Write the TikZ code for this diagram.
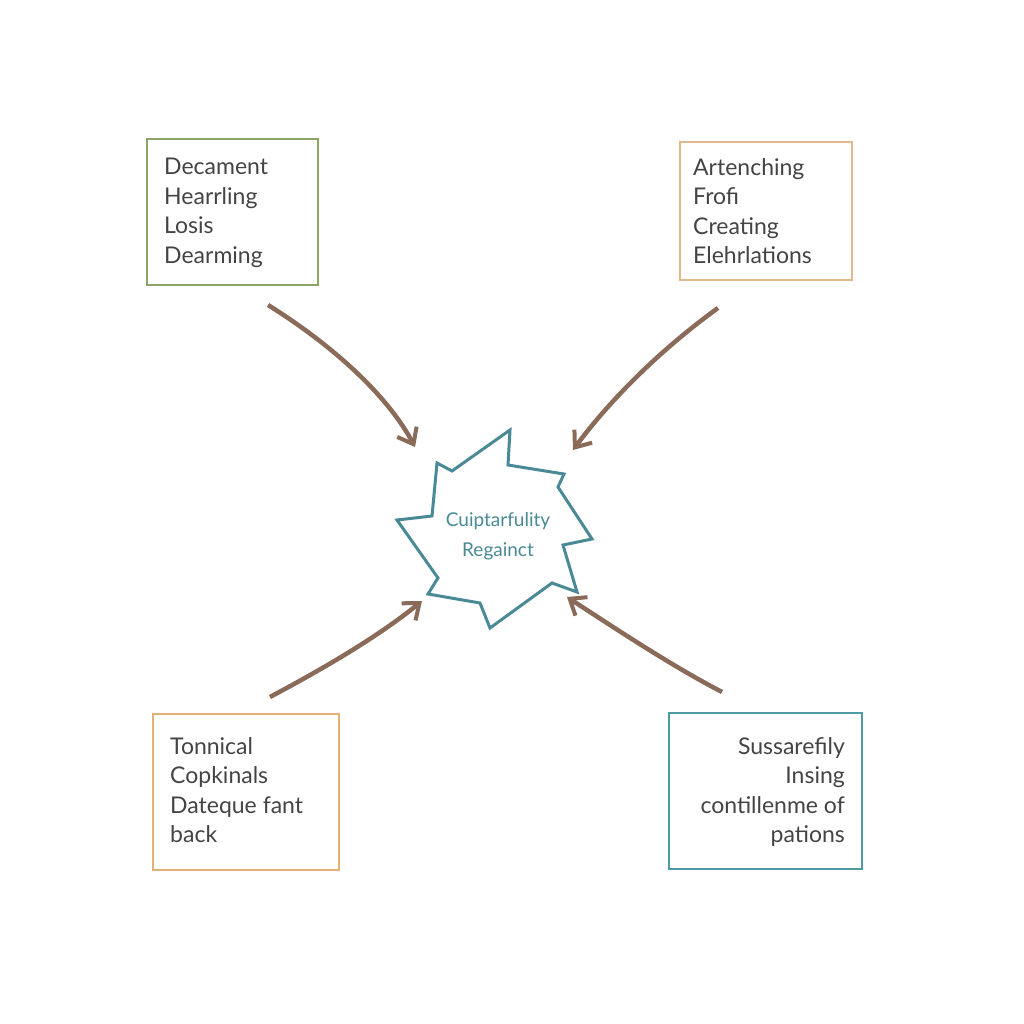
\documentclass[tikz,border=0pt]{standalone}
\usepackage{fontspec}
\setmainfont{Lato}
\usetikzlibrary{arrows.meta}
\definecolor{ink}{HTML}{444444}
\definecolor{gbox}{HTML}{8FA565}
\definecolor{obox}{HTML}{E2B88E}
\definecolor{obox2}{HTML}{E3B275}
\definecolor{tbox}{HTML}{4D9BA2}
\definecolor{brn}{HTML}{8A6A58}
\definecolor{teal}{HTML}{4A8A96}
\tikzset{
  box/.style={draw=#1,line width=2.5pt,inner sep=0pt},
  txt/.style={font=\fontsize{23}{29.5}\selectfont,text=ink,align=left,anchor=north west,inner sep=0pt},
  conn/.style={draw=brn,line width=4.5pt,-{Straight Barb[length=14pt,width=22pt,line width=4pt]}}
}
\begin{document}
\begin{tikzpicture}[x=1pt,y=-1pt]
\useasboundingbox[fill=white] (0,0) rectangle (1024,1024);
\draw[box=gbox] (147,139) rectangle (318,285);
\node[txt] (t1) at (164,158) {Decament\\Hearrling\\Losis\\Dearming};
\draw[box=obox] (680,142) rectangle (852,280);
\node[txt] (t2) at (693,158) {Artenching\\Frofi\\Creating\\Elehrlations};
\draw[box=obox2] (153,714) rectangle (339,870);
\node[txt] (t3) at (170,737) {Tonnical\\Copkinals\\Dateque fant\\back};
\draw[box=tbox] (669,713) rectangle (862,869);
\node[txt,align=right,anchor=north east] (t4) at (845,737) {Sussarefily\\Insing\\contillenme of\\pations};
\draw[teal,line width=3pt,line join=miter] (437,463)--(452,471)--(510,430)--(508,465)--(564,474)--(558,487)--(592,539)--(563,545)--(577,592)--(552,583)--(490,628)--(480,603)--(428,594)--(438,578)--(397,520)--(432,516)--cycle;
\node[font=\fontsize{19}{30}\selectfont,text=teal,align=center] (c) at (498,536) {Cuiptarfulity\\Regainct};
\coordinate (a1) at (268,305); \coordinate (b1) at (415,447);
\coordinate (a2) at (718,308); \coordinate (b2) at (573,450);
\coordinate (a3) at (270,697); \coordinate (b3) at (422,601);
\coordinate (a4) at (722,692); \coordinate (b4) at (567,597);
\draw[conn] (a1) .. controls (340,350) and (390,400) .. (b1);
\draw[conn] (a2) .. controls (660,350) and (610,400) .. (b2);
\draw[conn] (a3) .. controls (330,665) and (380,635) .. (b3);
\draw[conn] (a4) .. controls (670,665) and (610,625) .. (b4);
\end{tikzpicture}
\end{document}
